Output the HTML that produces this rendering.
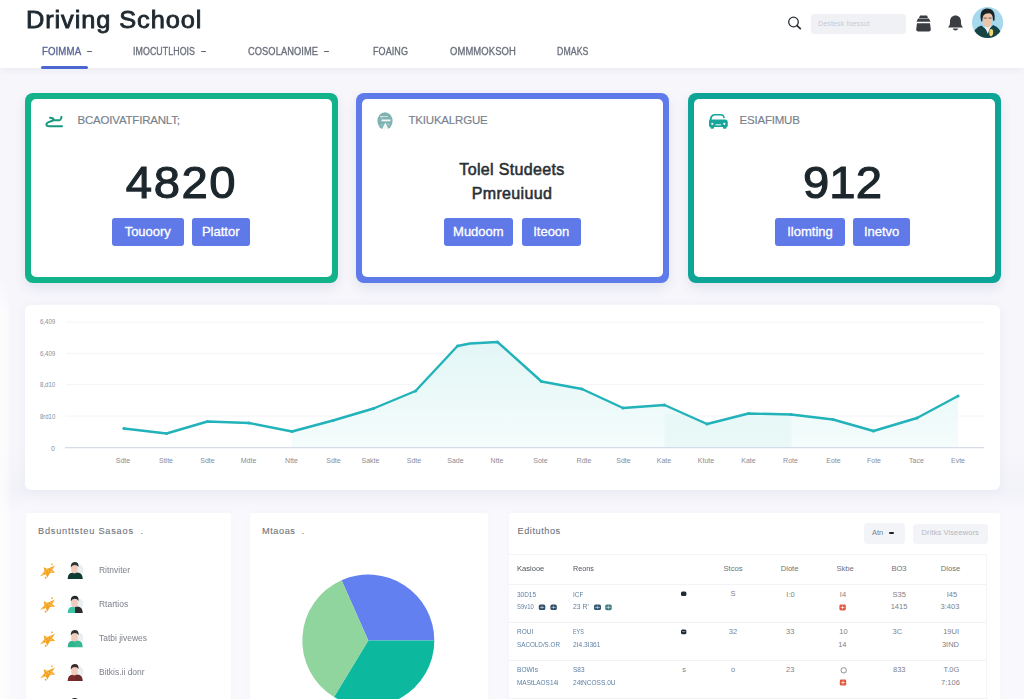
<!DOCTYPE html>
<html lang="en">
<head>
<meta charset="utf-8">
<title>Driving School</title>
<style>
*{box-sizing:border-box;margin:0;padding:0}
html,body{width:1024px;height:699px;overflow:hidden}
body{background:#f6f6fb;font-family:"Liberation Sans",sans-serif;position:relative;color:#1f2930}
.abs{position:absolute}
header{position:absolute;left:0;top:0;width:1024px;height:68px;background:#fff;box-shadow:0 2px 8px rgba(40,40,90,.06)}
.title{position:absolute;left:25.500px;top:5.3px;font-size:24.2px;font-weight:normal;-webkit-text-stroke:.85px #1e282f;color:#1e282f;letter-spacing:.85px;transform:scaleX(1.05);transform-origin:0 50%;white-space:nowrap;line-height:30px}
.nav{position:absolute;top:45px;font-size:10px;color:#6a6f7b;white-space:nowrap;line-height:14px;letter-spacing:.1px}
.nav{transform-origin:0 50%;-webkit-text-stroke:.32px currentColor}
.dash{position:absolute;top:50.700px;width:5.200px;height:1.600px;border-radius:1px;background:#5d626c}
.nav.act{color:#5a6694}
.uline{position:absolute;left:41px;top:66px;width:47px;height:3px;border-radius:2px;background:#4c66d2}
.search{position:absolute;left:811px;top:14px;width:95px;height:20px;border-radius:3px;background:#f0f1f5;font-size:7px;color:#c6cad4;line-height:20px;padding-left:7px;letter-spacing:.15px}
.card{position:absolute;top:92.5px;width:313px;height:190.3px;border-radius:8px;box-shadow:0 5px 12px rgba(70,70,130,.10)}
.ci{position:absolute;left:6px;top:6px;right:6px;bottom:6.300px;background:#fff;border-radius:5px}
.lbl{position:absolute;top:14.5px;font-size:11.5px;color:#78818b;-webkit-text-stroke:.15px currentColor;white-space:nowrap;line-height:14px;transform-origin:0 50%;letter-spacing:-.2px}
.big{position:absolute;left:0;width:100%;text-align:center;top:58.8px;font-size:45px;line-height:52px;color:#1c262d;letter-spacing:1.5px;-webkit-text-stroke:1.1px #1c262d;transform:scaleX(1.05);transform-origin:50% 50%}
.mid{position:absolute;left:0;width:100%;text-align:center;font-size:16px;font-weight:normal;-webkit-text-stroke:.55px #2a2f35;letter-spacing:.35px;line-height:20px;color:#2a2f35;white-space:nowrap}
.btn{position:absolute;top:119.5px;height:28px;border-radius:3px;background:#5f79e8;color:#fff;font-size:13px;line-height:28px;-webkit-text-stroke:.3px #fff;text-align:center;white-space:nowrap}
.panel{position:absolute;background:#fff;border-radius:8px;box-shadow:0 2px 12px rgba(60,60,110,.05)}
.nm{position:absolute;left:99px;font-size:9.5px;color:#7b7f8a;line-height:12px;white-space:nowrap;transform:scaleX(.89);transform-origin:0 50%}
.th,.td,.tb{position:absolute;font-size:7.5px;line-height:10px;white-space:nowrap;color:#7d828a}
.th{color:#4d535b;font-size:8px}
.th[style*="center"]{color:#6d727b;font-size:7.6px}
.tb{color:#5b7fa3}
.bp{border-radius:3px;box-shadow:0 0 6px rgba(70,70,130,.035)}
.ptitle{position:absolute;font-size:9.2px;letter-spacing:.55px;-webkit-text-stroke:.1px currentColor;color:#6f747d;white-space:nowrap;line-height:14px}
</style>
</head>
<body>
<header>
  <div class="title">Driving School</div>
  <div class="nav act" style="left:41.5px;transform:scaleX(0.965)">FOIMMA</div>
  <div class="dash" style="left:86.7px"></div>
  <div class="nav" style="left:133px;transform:scaleX(0.88)">IMOCUTLHOIS</div>
  <div class="dash" style="left:200.8px"></div>
  <div class="nav" style="left:248.3px;transform:scaleX(0.927)">COSOLANOIME</div>
  <div class="dash" style="left:324px"></div>
  <div class="nav" style="left:373px;transform:scaleX(0.9)">FOAING</div>
  <div class="nav" style="left:450px;transform:scaleX(0.944)">OMMMOKSOH</div>
  <div class="nav" style="left:557px;transform:scaleX(0.872)">DMAKS</div>
  <div class="uline"></div>
  <svg class="abs" style="left:780px;top:0" width="244" height="50" viewBox="780 0 244 50">
    <circle cx="793.5" cy="22" r="4.8" fill="none" stroke="#2b2f36" stroke-width="1.3"/>
    <path d="M797 25.6 L800.3 28.6" stroke="#2b2f36" stroke-width="1.8" stroke-linecap="round" fill="none"/>
    <g fill="#3a3d42">
      <path d="M920 15.5h7l1 2.5h-9z"/>
      <path d="M918 18.5h11l1.5 3.2h-14z"/>
      <path d="M917 23.2h13l.8 6.3q0 2-2 2h-10.6q-2 0-2-2z"/>
      <path d="M948 27.600C949.800 25.500 950 24 950 21.500C950 17.800 952.400 15.600 955.500 15.600C958.600 15.600 961 17.800 961 21.500C961 24 961.200 25.500 963 27.600Z"/>
      <path d="M952.800 28.600h5.400q-.4 2-2.700 2t-2.700-2z"/>
    </g>
    <defs><clipPath id="avc"><circle cx="987.6" cy="22.500" r="15.6"/></clipPath></defs>
    <g clip-path="url(#avc)">
      <rect x="970" y="5" width="36" height="36" fill="#a6d9ee"/>
      <path d="M972 40Q973 27.500 981.500 25.500L987.500 31L993 25Q1001.500 27.500 1003 40Z" fill="#174345"/>
      <path d="M984.500 25.500L987.800 34L990.800 25.500Z" fill="#f3f1ec"/>
      <path d="M982.200 18Q982 12 987.300 12Q992.600 12 992.500 18.500Q992.400 24.500 989.500 26.800Q987.500 28.200 985.300 26.600Q982.400 24.300 982.200 18Z" fill="#ecc5ad"/>
      <path d="M981 20.500Q978.800 9 987 8.400Q995.800 8.200 994.600 20Q993.300 22.500 992.800 19Q993 14.500 989.500 13.200Q985 13 983.400 15.500Q982.300 17.500 982.300 21.500Q981.400 22 981 20.500Z" fill="#1d2428"/>
      <rect x="983.600" y="17.600" width="3.200" height="1" fill="#3b2f2f" opacity=".7"/><rect x="988.400" y="17.600" width="3.200" height="1" fill="#3b2f2f" opacity=".7"/>
      <path d="M989.300 31.200Q989 29 991 29Q993.300 29 993.200 32Q993.200 36 991 36.200Q989.200 36 989.300 33Z" fill="#f2d873"/>
    </g>
  </svg>
  <div class="search">Destesk foessct</div>
</header>

<div class="card" style="left:24.5px;background:#12b28a"><div class="ci">
  <div class="lbl" style="left:47px">BCAOIVATFIRANLT;</div>
  <div class="big">4820</div>
  <div class="btn" style="left:81px;width:72.5px">Touoory</div>
  <div class="btn" style="left:161.2px;width:58px">Plattor</div>
</div></div>
<div class="card" style="left:355.5px;background:#5f7be9"><div class="ci">
  <div class="lbl" style="left:47px">TKIUKALRGUE</div>
  <div class="mid" style="top:61px">Tolel Studeets</div>
  <div class="mid" style="top:85.500px">Pmreuiuud</div>
  <div class="btn" style="left:82px;width:69.7px">Mudoom</div>
  <div class="btn" style="left:160px;width:59.5px">Iteoon</div>
</div></div>
<div class="card" style="left:687.5px;background:#0fa596"><div class="ci">
  <div class="lbl" style="left:46px">ESIAFIMUB</div>
  <div class="big" style="letter-spacing:0;left:-1.5px">912</div>
  <div class="btn" style="left:81.3px;width:70.4px">Ilomting</div>
  <div class="btn" style="left:159.6px;width:57px">Inetvo</div>
</div></div>

<!--CARDICONS-->
<svg class="abs" style="left:0;top:100px" width="1024" height="40" viewBox="0 100 1024 40">
  <g fill="none" stroke="#17997f" stroke-width="2" stroke-linecap="round" stroke-linejoin="round">
    <path d="M50 117.700L52.600 118.200Q54.600 119.200 52.400 120.800L48 122.400Q46 123.500 46.400 125Q46.900 126.200 49 126.200L62 126.200"/>
    <path d="M53.200 120.300L59.400 120.300Q60.800 120.100 61 118.500L61.500 116.900"/>
  </g>
  <g>
    <ellipse cx="385" cy="121" rx="7.600" ry="8.800" fill="#5f9f9d" opacity=".8"/><circle cx="382" cy="117.500" r="1.200" fill="#fff" opacity=".25"/><circle cx="388.500" cy="124.500" r="1.300" fill="#fff" opacity=".25"/><circle cx="381.500" cy="125" r="1.100" fill="#fff" opacity=".25"/>
    <rect x="381.500" y="119.500" width="9" height="1.800" fill="#fff" opacity=".9"/>
    <path d="M381.500 130L385.300 122.500L389 130Z" fill="#fff" opacity=".9"/>
    <path d="M380 116.500h8" stroke="#fff" stroke-width="1" opacity=".6"/>
  </g>
  <g fill="#17a59c">
    <path d="M709.600 121.500C709.600 116.500 711.500 114 714.500 113.900L721 113.900C723.500 114 724.600 115.500 724.900 118L723.300 118.300C723 116.300 722.300 115.600 720.800 115.600L714.700 115.600C712.600 115.700 711.500 117.500 711.500 121.500Z"/>
    <path d="M709 121.500Q709 119.600 711 119.600L725 119.600Q727.800 119.600 727.800 122.500L727.800 125.500Q727.800 127 726.500 127L726.500 127.800Q726.500 128.800 725.300 128.800L724 128.800Q722.900 128.800 722.900 127.800L722.900 127L714 127L714 127.800Q714 128.800 712.900 128.800L711.600 128.800Q710.400 128.800 710.400 127.800L710.400 127Q709 127 709 125.500Z"/>
    <circle cx="712.300" cy="123.800" r="1.100" fill="#fff"/><circle cx="724.300" cy="123.800" r="1.100" fill="#fff"/>
    <rect x="715.500" y="124.200" width="5.500" height="1.200" fill="#fff" opacity=".8"/>
  </g>
</svg>
<!--/CARDICONS-->
<div class="abs" style="left:0;top:450px;width:1024px;height:249px;background:linear-gradient(#f6f6fb 0,#f2f2f9 40px,#f5f5fb 52px,#f9f9fd 64px,#f9f9fd 100%)"></div>
<div class="panel" style="left:25px;top:305px;width:975px;height:185px;border-radius:6px"></div>
<!--CHART-->
<svg class="abs" style="left:0;top:0" width="1024" height="699" viewBox="0 0 1024 699">
<defs><linearGradient id="ag" x1="0" y1="0" x2="0" y2="1"><stop offset="0" stop-color="#e2f6f5"/><stop offset="1" stop-color="#f5fcfc"/></linearGradient></defs>
<line x1="66" x2="984" y1="322" y2="322" stroke="#f3f4f7" stroke-width="1"/>
<line x1="66" x2="984" y1="353.3" y2="353.3" stroke="#f3f4f7" stroke-width="1"/>
<line x1="66" x2="984" y1="384.6" y2="384.6" stroke="#f3f4f7" stroke-width="1"/>
<line x1="66" x2="984" y1="416" y2="416" stroke="#f3f4f7" stroke-width="1"/>
<polygon points="292,431.5 333,420.5 373.5,408.5 415.5,391 457.5,346 470,343.5 497.5,342 541.5,381.5 582,389 623,408 664.5,405 707,424 748.5,413.5 791,414.5 833,419.5 873.5,431 917,418 958,396 958,447.5 292,447.5" fill="url(#ag)"/>
<clipPath id="fc"><polygon points="292,431.5 333,420.5 373.5,408.5 415.5,391 457.5,346 470,343.5 497.5,342 541.5,381.5 582,389 623,408 664.5,405 707,424 748.5,413.5 791,414.5 833,419.5 873.5,431 917,418 958,396 958,447.5 292,447.5"/></clipPath><rect x="664.500" y="414.500" width="127" height="33" fill="#d8f3f1" opacity=".35" clip-path="url(#fc)"/>
<line x1="65" x2="984" y1="447.8" y2="447.8" stroke="#cad1e5" stroke-width="1.1"/>
<polyline points="124,428.5 166.5,433.5 207.5,421.5 249,423 292,431.5 333,420.5 373.5,408.5 415.5,391 457.5,346 470,343.5 497.5,342 541.5,381.5 582,389 623,408 664.5,405 707,424 748.5,413.5 791,414.5 833,419.5 873.5,431 917,418 958,396" fill="none" stroke="#22b2ba" stroke-width="2.4" stroke-linejoin="round" stroke-linecap="round"/>
<circle cx="124" cy="428.5" r="1.6" fill="#25b4bc"/><circle cx="166.5" cy="433.5" r="1.6" fill="#25b4bc"/><circle cx="207.5" cy="421.5" r="1.6" fill="#25b4bc"/><circle cx="249" cy="423" r="1.6" fill="#25b4bc"/><circle cx="292" cy="431.5" r="1.6" fill="#25b4bc"/><circle cx="333" cy="420.5" r="1.6" fill="#25b4bc"/><circle cx="373.5" cy="408.5" r="1.6" fill="#25b4bc"/><circle cx="415.5" cy="391" r="1.6" fill="#25b4bc"/><circle cx="457.5" cy="346" r="1.6" fill="#25b4bc"/><circle cx="497.5" cy="342" r="1.6" fill="#25b4bc"/><circle cx="541.5" cy="381.5" r="1.6" fill="#25b4bc"/><circle cx="582" cy="389" r="1.6" fill="#25b4bc"/><circle cx="623" cy="408" r="1.6" fill="#25b4bc"/><circle cx="664.5" cy="405" r="1.6" fill="#25b4bc"/><circle cx="707" cy="424" r="1.6" fill="#25b4bc"/><circle cx="748.5" cy="413.5" r="1.6" fill="#25b4bc"/><circle cx="791" cy="414.5" r="1.6" fill="#25b4bc"/><circle cx="833" cy="419.5" r="1.6" fill="#25b4bc"/><circle cx="873.5" cy="431" r="1.6" fill="#25b4bc"/><circle cx="917" cy="418" r="1.6" fill="#25b4bc"/><circle cx="958" cy="396" r="1.6" fill="#25b4bc"/>
<g font-family="Liberation Sans, sans-serif" font-size="7" fill="#888d96">
<text x="40" y="324" textLength="15.2" lengthAdjust="spacingAndGlyphs">6,409</text><text x="40" y="355.5" textLength="15.2" lengthAdjust="spacingAndGlyphs">6,409</text><text x="40" y="387" textLength="15.2" lengthAdjust="spacingAndGlyphs">8,d10</text><text x="40" y="418.5" textLength="15.2" lengthAdjust="spacingAndGlyphs">8rd10</text><text x="55" y="450.5" text-anchor="end">0</text>
<text x="123" y="463" text-anchor="middle">Sdte</text><text x="166" y="463" text-anchor="middle">Stite</text><text x="207.5" y="463" text-anchor="middle">Sdte</text><text x="248.5" y="463" text-anchor="middle">Mdte</text><text x="291.5" y="463" text-anchor="middle">Ntte</text><text x="333.5" y="463" text-anchor="middle">Sdte</text><text x="370.5" y="463" text-anchor="middle">Sakte</text><text x="414" y="463" text-anchor="middle">Sdte</text><text x="455.5" y="463" text-anchor="middle">Sade</text><text x="497" y="463" text-anchor="middle">Ntte</text><text x="540.5" y="463" text-anchor="middle">Sote</text><text x="584" y="463" text-anchor="middle">Rdte</text><text x="623.5" y="463" text-anchor="middle">Sdte</text><text x="664" y="463" text-anchor="middle">Kate</text><text x="706" y="463" text-anchor="middle">Ktute</text><text x="748.5" y="463" text-anchor="middle">Kate</text><text x="790.5" y="463" text-anchor="middle">Rote</text><text x="833.5" y="463" text-anchor="middle">Eote</text><text x="874" y="463" text-anchor="middle">Fote</text><text x="916.5" y="463" text-anchor="middle">Tace</text><text x="958" y="463" text-anchor="middle">Evte</text>
</g>
</svg>
<!--/CHART-->
<div class="panel bp" style="left:26px;top:513px;width:205px;height:200px"></div>
<div class="panel bp" style="left:250px;top:513px;width:238px;height:200px"></div>
<div class="panel bp" style="left:508.500px;top:513px;width:491.500px;height:200px"></div>
<!--P1-->
<div class="ptitle" style="left:38px;top:524px;letter-spacing:.78px">Bdsunttsteu Sasaos &nbsp;.</div>
<svg class="abs" style="left:30px;top:550px" width="70" height="149" viewBox="30 550 70 149">
<g transform="translate(48.2 571.0999999999999) rotate(-32)"><path d="M-9.500 0L-3.200-1.800L-1.800-5.600L.8-2.200L8.600-1.200L3.800 1.200L5.200 5L.4 2.600L-4.400 5.200L-3.600 1.400Z" fill="#f5a11f"/><path d="M-7 0L7-.4" stroke="#f8c860" stroke-width="1.200" stroke-dasharray="1.500 1.800"/><rect x="-1.200" y="-3.400" width="1.500" height="1.500" fill="#fbd98a"/><rect x="1.500" y="1.500" width="1.400" height="1.400" fill="#fbd98a"/><rect x="-6.500" y="3.500" width="1.600" height="1.600" fill="#f39a1c"/><rect x="6" y="-4.600" width="1.500" height="1.500" fill="#f5a623"/></g>
<g transform="translate(75.2 570.3)"><ellipse cx="4.500" cy="-.5" rx="3.600" ry="5.200" fill="#eceff2"/><path d="M-7.600 8.800Q-7.600 2.600-2 2.200L-.2 2.200L-.2 8.800Z" fill="#0f3a30"/><path d="M-.2 2.200L2 2.200Q7.600 2.600 7.600 8.800L-.2 8.800Z" fill="#0f3a30"/><ellipse cx="-.8" cy="-1.200" rx="3.300" ry="4.300" fill="#f1cbbc"/><path d="M-4.400-2.800Q-4.800-8.300-.6-8.400Q4-8.300 3.300-3.200Q2-5.400-.6-5.400Q-3.300-5.400-4.400-2.800Z" fill="#2b3634"/></g>
<g transform="translate(48.2 605.0) rotate(-32)"><path d="M-9.500 0L-3.200-1.800L-1.800-5.600L.8-2.200L8.600-1.200L3.800 1.200L5.200 5L.4 2.600L-4.400 5.200L-3.600 1.400Z" fill="#f5a11f"/><path d="M-7 0L7-.4" stroke="#f8c860" stroke-width="1.200" stroke-dasharray="1.500 1.800"/><rect x="-1.200" y="-3.400" width="1.500" height="1.500" fill="#fbd98a"/><rect x="1.500" y="1.500" width="1.400" height="1.400" fill="#fbd98a"/><rect x="-6.500" y="3.500" width="1.600" height="1.600" fill="#f39a1c"/><rect x="6" y="-4.600" width="1.500" height="1.500" fill="#f5a623"/></g>
<g transform="translate(75.2 604.2)"><ellipse cx="4.500" cy="-.5" rx="3.600" ry="5.200" fill="#eceff2"/><path d="M-7.600 8.800Q-7.600 2.600-2 2.200L-.2 2.200L-.2 8.800Z" fill="#3fc4a6"/><path d="M-.2 2.200L2 2.200Q7.600 2.600 7.600 8.800L-.2 8.800Z" fill="#2b2d2e"/><ellipse cx="-.8" cy="-1.200" rx="3.300" ry="4.300" fill="#f1cbbc"/><path d="M-4.400-2.800Q-4.800-8.300-.6-8.400Q4-8.300 3.300-3.200Q2-5.400-.6-5.400Q-3.300-5.400-4.400-2.800Z" fill="#23282b"/></g>
<g transform="translate(48.2 639.1999999999999) rotate(-32)"><path d="M-9.500 0L-3.200-1.800L-1.800-5.600L.8-2.200L8.600-1.200L3.800 1.200L5.200 5L.4 2.600L-4.400 5.200L-3.600 1.400Z" fill="#f5a11f"/><path d="M-7 0L7-.4" stroke="#f8c860" stroke-width="1.200" stroke-dasharray="1.500 1.800"/><rect x="-1.200" y="-3.400" width="1.500" height="1.500" fill="#fbd98a"/><rect x="1.500" y="1.500" width="1.400" height="1.400" fill="#fbd98a"/><rect x="-6.500" y="3.500" width="1.600" height="1.600" fill="#f39a1c"/><rect x="6" y="-4.600" width="1.500" height="1.500" fill="#f5a623"/></g>
<g transform="translate(75.2 638.4)"><ellipse cx="4.500" cy="-.5" rx="3.600" ry="5.200" fill="#eceff2"/><path d="M-7.600 8.800Q-7.600 2.600-2 2.200L-.2 2.200L-.2 8.800Z" fill="#2fb58c"/><path d="M-.2 2.200L2 2.200Q7.600 2.600 7.600 8.800L-.2 8.800Z" fill="#38b893"/><ellipse cx="-.8" cy="-1.200" rx="3.300" ry="4.300" fill="#f1cbbc"/><path d="M-4.400-2.800Q-4.800-8.300-.6-8.400Q4-8.300 3.300-3.200Q2-5.400-.6-5.400Q-3.300-5.400-4.400-2.800Z" fill="#2b3030"/></g>
<g transform="translate(48.2 673.0999999999999) rotate(-32)"><path d="M-9.500 0L-3.200-1.800L-1.800-5.600L.8-2.200L8.600-1.200L3.800 1.200L5.200 5L.4 2.600L-4.400 5.200L-3.600 1.400Z" fill="#f5a11f"/><path d="M-7 0L7-.4" stroke="#f8c860" stroke-width="1.200" stroke-dasharray="1.500 1.800"/><rect x="-1.200" y="-3.400" width="1.500" height="1.500" fill="#fbd98a"/><rect x="1.500" y="1.500" width="1.400" height="1.400" fill="#fbd98a"/><rect x="-6.500" y="3.500" width="1.600" height="1.600" fill="#f39a1c"/><rect x="6" y="-4.600" width="1.500" height="1.500" fill="#f5a623"/></g>
<g transform="translate(75.2 672.3)"><ellipse cx="4.500" cy="-.5" rx="3.600" ry="5.200" fill="#eceff2"/><path d="M-7.600 8.800Q-7.600 2.600-2 2.200L-.2 2.200L-.2 8.800Z" fill="#7a2c2c"/><path d="M-.2 2.200L2 2.200Q7.600 2.600 7.600 8.800L-.2 8.800Z" fill="#6e2a2a"/><ellipse cx="-.8" cy="-1.200" rx="3.300" ry="4.300" fill="#f1cbbc"/><path d="M-4.400-2.800Q-4.800-8.300-.6-8.400Q4-8.300 3.300-3.200Q2-5.400-.6-5.400Q-3.300-5.400-4.400-2.800Z" fill="#3a2a2a"/></g>
<g transform="translate(48.2 707.0999999999999) rotate(-32)"><path d="M-9.500 0L-3.200-1.800L-1.800-5.600L.8-2.200L8.600-1.200L3.800 1.200L5.200 5L.4 2.600L-4.400 5.200L-3.600 1.400Z" fill="#f5a11f"/><path d="M-7 0L7-.4" stroke="#f8c860" stroke-width="1.200" stroke-dasharray="1.500 1.800"/><rect x="-1.200" y="-3.400" width="1.500" height="1.500" fill="#fbd98a"/><rect x="1.500" y="1.500" width="1.400" height="1.400" fill="#fbd98a"/><rect x="-6.500" y="3.500" width="1.600" height="1.600" fill="#f39a1c"/><rect x="6" y="-4.600" width="1.500" height="1.500" fill="#f5a623"/></g>
<g transform="translate(75.2 706.3)"><ellipse cx="4.500" cy="-.5" rx="3.600" ry="5.200" fill="#eceff2"/><path d="M-7.600 8.800Q-7.600 2.600-2 2.200L-.2 2.200L-.2 8.800Z" fill="#2a4a60"/><path d="M-.2 2.200L2 2.200Q7.600 2.600 7.600 8.800L-.2 8.800Z" fill="#2a4a60"/><ellipse cx="-.8" cy="-1.200" rx="3.300" ry="4.300" fill="#f1cbbc"/><path d="M-4.400-2.800Q-4.800-8.300-.6-8.400Q4-8.300 3.300-3.200Q2-5.400-.6-5.400Q-3.300-5.400-4.400-2.800Z" fill="#222"/></g>
</svg>
<div class="nm" style="top:564.3px">Ritnviter</div>
<div class="nm" style="top:598.2px">Rtartios</div>
<div class="nm" style="top:632.4px">Tatbi jivewes</div>
<div class="nm" style="top:666.3px">Bitkis.ii donr</div>
<div class="nm" style="top:700.3px">Rtkoiter</div>
<!--/P1-->
<!--P2-->
<div class="ptitle" style="left:262px;top:524px">Mtaoas &nbsp;.</div>
<svg class="abs" style="left:295px;top:568px" width="150" height="131" viewBox="295 568 150 131">
<path d="M368.3 640.5L341.56 580.16A66 66 0 0 1 434.30 640.50Z" fill="#6280f0"/>
<path d="M368.3 640.5L434.30 640.50A66 66 0 0 1 334.01 696.89Z" fill="#0cb89e"/>
<path d="M368.3 640.5L334.01 696.89A66 66 0 0 1 341.56 580.16Z" fill="#90d49e"/>
</svg>
<!--/P2-->
<!--P3-->
<div class="ptitle" style="left:517.5px;top:524px">Edituthos</div>
<div class="abs" style="left:864px;top:523px;width:41px;height:21px;border-radius:4px;background:#f3f4f7;font-size:7.5px;color:#7a7f87;line-height:19.500px;padding-left:8px">Atn<span style="position:absolute;left:25px;top:8.800px;width:5px;height:2px;background:#222;border-radius:1px"></span></div>
<div class="abs" style="left:912.5px;top:523.5px;width:75.500px;height:20px;border-radius:4px;background:#f3f4f7;font-size:7.5px;color:#b3b7bf;line-height:18.500px;text-align:center;letter-spacing:.1px">Dritks Viseewors</div>
<div class="abs" style="left:509px;top:554px;width:477.500px;height:160px;border:1px solid #f3f4f6;border-left:none"></div>
<div class="abs" style="left:509px;top:584px;width:477px;height:1px;background:#f2f3f5"></div>
<div class="abs" style="left:509px;top:622px;width:477px;height:1px;background:#f2f3f5"></div>
<div class="abs" style="left:509px;top:660px;width:477px;height:1px;background:#f2f3f5"></div>
<div class="abs" style="left:509px;top:698px;width:477px;height:1px;background:#f2f3f5"></div>
<div class="th" style="left:517px;top:564.2px;transform:scaleX(0.944);transform-origin:0 50%">Kasiooe</div>
<div class="th" style="left:572.6px;top:564.2px;transform:scaleX(0.899);transform-origin:0 50%">Reons</div>
<div class="tb" style="left:517px;top:589.8px;transform:scaleX(0.859);transform-origin:0 50%">30D15</div>
<div class="tb" style="left:517px;top:602.4px;transform:scaleX(0.785);transform-origin:0 50%">S9v10</div>
<div class="tb" style="left:573px;top:589.8px;transform:scaleX(0.852);transform-origin:0 50%">ICF</div>
<div class="tb" style="left:573px;top:602.4px;transform:scaleX(0.914);transform-origin:0 50%">23 R'</div>
<div class="tb" style="left:517px;top:627.4px;transform:scaleX(0.864);transform-origin:0 50%">ROUI</div>
<div class="tb" style="left:517px;top:640.3px;transform:scaleX(0.839);transform-origin:0 50%">SACOLD/S.OR</div>
<div class="tb" style="left:573px;top:627.4px;transform:scaleX(0.719);transform-origin:0 50%">EYS</div>
<div class="tb" style="left:573px;top:640.3px;transform:scaleX(0.876);transform-origin:0 50%">2I4.3I361</div>
<div class="tb" style="left:517px;top:665.3px;transform:scaleX(0.884);transform-origin:0 50%">BOWIs</div>
<div class="tb" style="left:517px;top:677.6px;transform:scaleX(0.858);transform-origin:0 50%">MAStLAOS14i</div>
<div class="tb" style="left:573px;top:665.3px;transform:scaleX(0.861);transform-origin:0 50%">S83</div>
<div class="tb" style="left:573px;top:677.6px;transform:scaleX(0.871);transform-origin:0 50%">24tNCOSS.0U</div>
<div class="th" style="left:703.0px;width:60px;text-align:center;top:564.2px">Stcos</div>
<div class="th" style="left:759.6px;width:60px;text-align:center;top:564.2px">Dlote</div>
<div class="th" style="left:815.1px;width:60px;text-align:center;top:564.2px">Skbe</div>
<div class="th" style="left:869.0px;width:60px;text-align:center;top:564.2px">BO3</div>
<div class="th" style="left:920.5px;width:60px;text-align:center;top:564.2px">Dlose</div>
<div class="td" style="left:703.0px;width:60px;text-align:center;top:589.4px">S</div>
<div class="td" style="left:760.5px;width:60px;text-align:center;top:589.8px">I:0</div>
<div class="td" style="left:813.0px;width:60px;text-align:center;top:589.8px">I4</div>
<div class="td" style="left:869.3px;width:60px;text-align:center;top:589.8px">S35</div>
<div class="td" style="left:869.0px;width:60px;text-align:center;top:602.4px">1415</div>
<div class="td" style="left:922.0px;width:60px;text-align:center;top:589.8px">I45</div>
<div class="td" style="left:920.0px;width:60px;text-align:center;top:602.4px">3:403</div>
<div class="td" style="left:703.0px;width:60px;text-align:center;top:627.4px">32</div>
<div class="td" style="left:760.2px;width:60px;text-align:center;top:627.4px">33</div>
<div class="td" style="left:813.4px;width:60px;text-align:center;top:627.4px">10</div>
<div class="td" style="left:812.3px;width:60px;text-align:center;top:640.3px">14</div>
<div class="td" style="left:867.3px;width:60px;text-align:center;top:627.4px">3C</div>
<div class="td" style="left:921.1px;width:60px;text-align:center;top:627.4px">19UI</div>
<div class="td" style="left:920.5px;width:60px;text-align:center;top:640.3px">3IND</div>
<div class="td" style="left:654.0px;width:60px;text-align:center;top:665.3px">s</div>
<div class="td" style="left:703.0px;width:60px;text-align:center;top:665.3px">o</div>
<div class="td" style="left:760.2px;width:60px;text-align:center;top:665.3px">23</div>
<div class="td" style="left:869.3px;width:60px;text-align:center;top:665.3px">833</div>
<div class="td" style="left:921.4px;width:60px;text-align:center;top:665.3px">T.0G</div>
<div class="td" style="left:920.5px;width:60px;text-align:center;top:677.6px">7:106</div>
<svg class="abs" style="left:509px;top:585px" width="480" height="110" viewBox="509 585 480 110">
<rect x="538.8" y="604.6" width="6.5" height="5.4" rx="1.600" fill="#2f4d68"/><rect x="540.0" y="606.9" width="4.1" height=".8" fill="#fff" opacity=".7"/><rect x="541.6" y="605.6" width=".8" height="3.4000000000000004" fill="#fff" opacity=".5"/>
<rect x="550.4" y="604.6" width="6.4" height="5.4" rx="1.600" fill="#2f4d68"/><rect x="551.6" y="606.9" width="4.0" height=".8" fill="#fff" opacity=".7"/><rect x="553.2" y="605.6" width=".8" height="3.4000000000000004" fill="#fff" opacity=".5"/>
<rect x="594" y="604.6" width="7" height="5.4" rx="1.600" fill="#35566e"/><rect x="595.2" y="606.9" width="4.6" height=".8" fill="#fff" opacity=".7"/><rect x="597.1" y="605.6" width=".8" height="3.4000000000000004" fill="#fff" opacity=".5"/>
<rect x="605.2" y="604.4" width="6.5" height="5.8" rx="1.600" fill="#3f7f80"/><rect x="606.4000000000001" y="606.9" width="4.1" height=".8" fill="#fff" opacity=".7"/><rect x="608.1" y="605.4" width=".8" height="3.8" fill="#fff" opacity=".5"/>
<rect x="681" y="591.500" width="5.400" height="4.600" rx="1.500" fill="#1f2a35"/><rect x="681" y="629.400" width="5.400" height="4.800" rx="1.500" fill="#1f2a35"/><rect x="682" y="631.300" width="3.400" height=".8" fill="#fff" opacity=".6"/>
<rect x="839.4" y="604.5" width="6.400" height="6" rx="1.400" fill="#e2583d"/><rect x="840.7" y="607.1" width="3.800" height=".8" fill="#fff" opacity=".8"/><rect x="842.2" y="605.6" width=".8" height="3.800" fill="#fff" opacity=".8"/>
<rect x="839.8" y="679.6" width="6.400" height="6" rx="1.400" fill="#e2583d"/><rect x="841.1" y="682.2" width="3.800" height=".8" fill="#fff" opacity=".8"/><rect x="842.6" y="680.7" width=".8" height="3.800" fill="#fff" opacity=".8"/>
<circle cx="843.700" cy="670.300" r="2.700" fill="none" stroke="#8a8f98" stroke-width="1"/>
</svg>
<!--/P3-->
<div class="abs" style="left:0;top:270px;width:13px;height:429px;background:linear-gradient(90deg,rgba(255,255,255,.75),rgba(255,255,255,.5) 50%,rgba(255,255,255,0));-webkit-mask-image:linear-gradient(180deg,transparent,#000 40px);mask-image:linear-gradient(180deg,transparent,#000 40px)"></div>
</body>
</html>
